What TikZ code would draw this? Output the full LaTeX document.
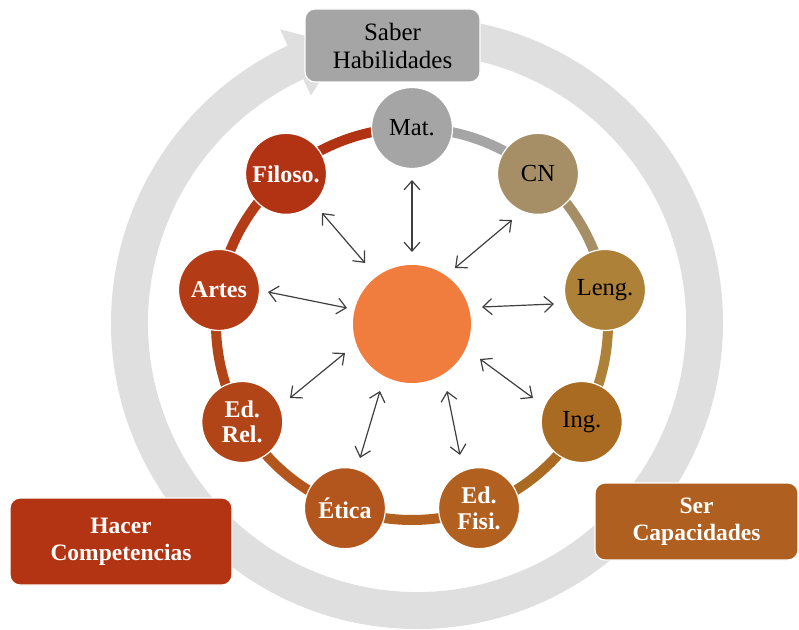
\documentclass[tikz,border=0pt]{standalone}
\usepackage{fontspec}
\setmainfont{Liberation Serif}
\usetikzlibrary{arrows.meta}
\definecolor{ringgrey}{HTML}{DFDFDF}
\definecolor{colMat}{HTML}{A5A5A5}
\definecolor{colCN}{HTML}{A68F66}
\definecolor{colLeng}{HTML}{AE8139}
\definecolor{colIng}{HTML}{A96B22}
\definecolor{colFisi}{HTML}{B26020}
\definecolor{colEtica}{HTML}{B3561D}
\definecolor{colRel}{HTML}{B24518}
\definecolor{colArtes}{HTML}{B33B16}
\definecolor{colFilo}{HTML}{B23214}
\definecolor{colCore}{HTML}{F07C3E}
\definecolor{colHacer}{HTML}{B33413}
\definecolor{colSer}{HTML}{AF5F20}
\definecolor{arrowgrey}{HTML}{3F3F3F}
\begin{document}
\begin{tikzpicture}[x=1pt,y=1pt,
  sat/.style={circle, minimum size=81pt, inner sep=0pt, draw=white, line width=1.2pt,
    align=center, font=\fontsize{24.5}{25.5}\selectfont},
  satw/.style={sat, text=white, font=\fontsize{24}{25.5}\selectfont\bfseries},
  link/.style={line width=10pt},
  rel/.style={{Straight Barb[length=9pt,width=16pt]}-{Straight Barb[length=9pt,width=16pt]},
    line width=1.2pt, draw=arrowgrey},
  box/.style={rounded corners=10pt, draw=white, line width=1.2pt, align=center,
    inner sep=0pt, font=\fontsize{25}{28}\selectfont},
  boxw/.style={box, text=white, font=\fontsize{23.5}{27}\selectfont\bfseries}
]
\useasboundingbox (0,0) rectangle (799,629);

% big grey circular arrow
\begin{scope}[shift={(417,306)}]
\fill[ringgrey] (85:306) arc[start angle=85, end angle=-245, radius=306]
  -- (-245:324) -- (-255:287.5) -- (-245:251) -- (-245:269)
  arc[start angle=-245, end angle=85, radius=269] -- cycle;
\end{scope}

% outer boxes
\node[box, fill=colMat, minimum width=175pt, minimum height=73pt] (saber) at (392.5,583.5) {Saber\\Habilidades};
\node[boxw, fill=colHacer, minimum width=222pt, minimum height=87pt] (hacer) at (121,87.5) {Hacer\\Competencias};
\node[boxw, fill=colSer, minimum width=203pt, minimum height=77pt] (ser) at (696.5,107.5) {Ser\\Capacidades};

% satellite positions
\begin{scope}[shift={(412,305)}]
\coordinate (pMat)   at (90:196);
\coordinate (pCN)    at (50:196);
\coordinate (pLeng)  at (10:196);
\coordinate (pIng)   at (-30:196);
\coordinate (pFisi)  at (-70:196);
\coordinate (pEtica) at (-110:196);
\coordinate (pRel)   at (-150:196);
\coordinate (pArtes) at (170:196);
\coordinate (pFilo)  at (130:196);
\end{scope}

% ring links
\draw[link, colMat]   (pMat)   arc[start angle=90,  end angle=50,   radius=196];
\draw[link, colCN]    (pCN)    arc[start angle=50,  end angle=10,   radius=196];
\draw[link, colLeng]  (pLeng)  arc[start angle=10,  end angle=-30,  radius=196];
\draw[link, colIng]   (pIng)   arc[start angle=-30, end angle=-70,  radius=196];
\draw[link, colFisi]  (pFisi)  arc[start angle=-70, end angle=-110, radius=196];
\draw[link, colEtica] (pEtica) arc[start angle=-110,end angle=-150, radius=196];
\draw[link, colRel]   (pRel)   arc[start angle=-150,end angle=-190, radius=196];
\draw[link, colArtes] (pArtes) arc[start angle=170, end angle=130,  radius=196];
\draw[link, colFilo]  (pFilo)  arc[start angle=130, end angle=90,   radius=196];

% satellites
\node[sat,  fill=colMat]   (mat)   at (pMat)   {Mat.};
\node[sat,  fill=colCN]    (cn)    at (pCN)    {CN};
\node[sat,  fill=colLeng]  (leng)  at (pLeng)  {Leng.};
\node[sat,  fill=colIng]   (ing)   at (pIng)   {Ing.};
\node[satw, fill=colFisi]  (fisi)  at (pFisi)  {Ed.\\Fisi.};
\node[satw, fill=colEtica] (etica) at (pEtica) {Ética};
\node[satw, fill=colRel]   (rel)   at (pRel)   {Ed.\\Rel.};
\node[satw, fill=colArtes] (artes) at (pArtes) {Artes};
\node[satw, fill=colFilo]  (filo)  at (pFilo)  {Filoso.};

% core
\node[circle, fill=colCore, minimum size=118pt, inner sep=0pt] (core) at (412,305) {};

% arrow end points
\coordinate (oMat)   at (412,449); \coordinate (iMat)   at (412,377);
\coordinate (oCN)    at (512,409); \coordinate (iCN)    at (455,361);
\coordinate (oLeng)  at (554,325); \coordinate (iLeng)  at (482,322);
\coordinate (oIng)   at (533,231); \coordinate (iIng)   at (480,270);
\coordinate (oFisi)  at (460,174); \coordinate (iFisi)  at (447,238);
\coordinate (oEtica) at (360,171); \coordinate (iEtica) at (380,238);
\coordinate (oRel)   at (290,231); \coordinate (iRel)   at (345,276);
\coordinate (oArtes) at (268,337); \coordinate (iArtes) at (347,321);
\coordinate (oFilo)  at (322,416); \coordinate (iFilo)  at (365,366);

\foreach \n in {Mat,CN,Leng,Ing,Fisi,Etica,Rel,Artes,Filo}
  \draw[rel] (o\n) -- (i\n);
\end{tikzpicture}
\end{document}
